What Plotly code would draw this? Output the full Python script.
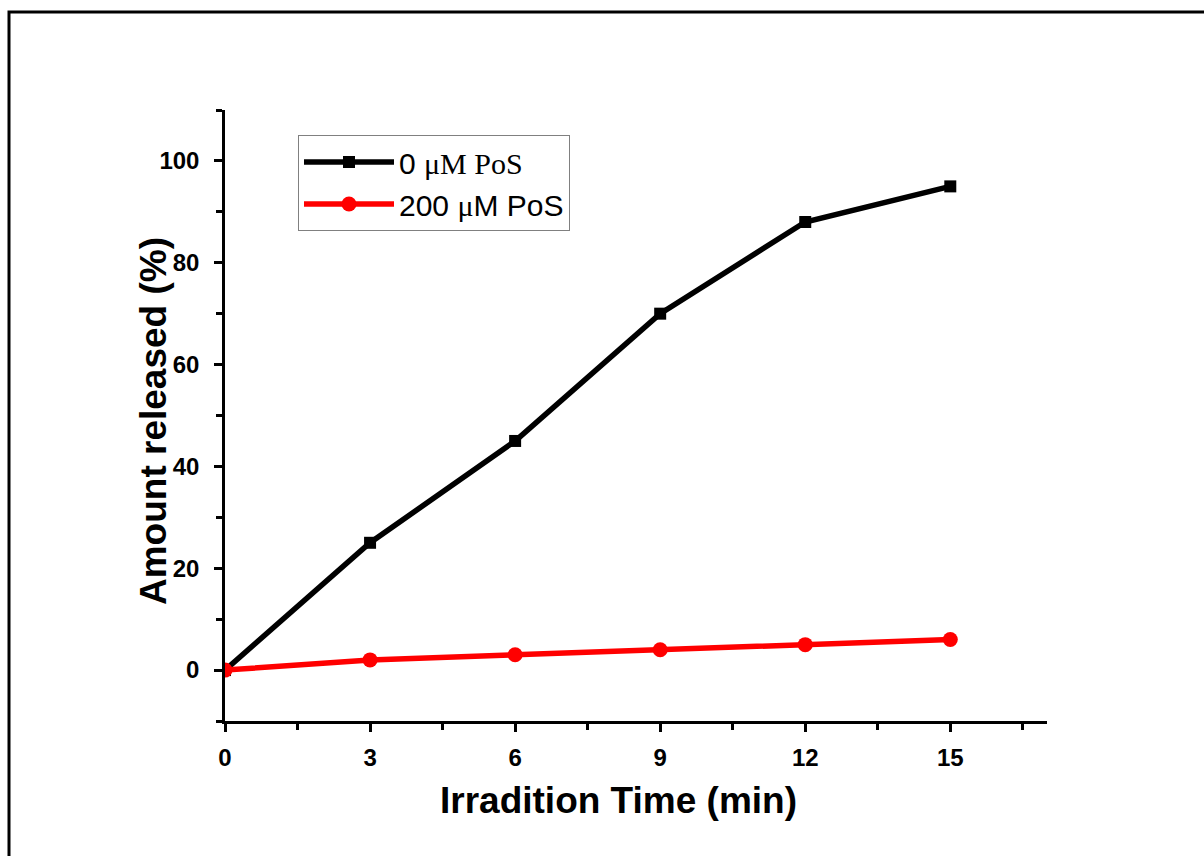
import plotly.graph_objects as go

time_min = [0, 3, 6, 9, 12, 15]
release_0uM = [0, 25, 45, 70, 88, 95]
release_200uM = [0, 2, 3, 4, 5, 6]

name_0 = '0 <span style="font-family:Liberation Serif, Times New Roman, serif">μM PoS</span>'
name_200 = '200 <span style="font-family:Liberation Serif, Times New Roman, serif">μ</span>M PoS'

SANS = "Liberation Sans, Arial, sans-serif"

# plot area in pixels: x 225..1047, y 110..721
L, R, T, B = 225, 1047, 110, 721
PW, PH = R - L, B - T

fig = go.Figure()
fig.add_trace(go.Scatter(
    x=time_min, y=release_0uM, name=name_0, mode="lines+markers",
    line=dict(color="black", width=5.5),
    marker=dict(symbol="square", size=12, color="black"),
))
fig.add_trace(go.Scatter(
    x=time_min, y=release_200uM, name=name_200, mode="lines+markers",
    line=dict(color="#ff0000", width=5.5),
    marker=dict(symbol="circle", size=15, color="#ff0000"),
))

axis_common = dict(
    showgrid=False, zeroline=False, showline=True, linecolor="black", linewidth=2.5,
    ticks="outside", ticklen=8, tickwidth=2.5, tickcolor="black",
    tickfont=dict(family=SANS, size=24, color="black", weight="bold"),
    mirror=False,
)

fig.update_layout(
    width=1204, height=856,
    margin=dict(l=L, r=1204 - R, t=T, b=856 - B),
    plot_bgcolor="white", paper_bgcolor="white",
    showlegend=True,
    legend=dict(
        x=(298 - L) / PW, y=(B - 135) / PH, xanchor="left", yanchor="top",
        bordercolor="#808080", borderwidth=1, bgcolor="white",
        font=dict(family=SANS, size=30, color="black"),
        itemwidth=90, tracegroupgap=0,
    ),
    xaxis=dict(
        **axis_common, range=[0, 17], tick0=0, dtick=3, ticklabelstandoff=5,
        minor=dict(dtick=1.5, ticklen=6, tickwidth=2.5, ticks="outside", tickcolor="black"),
    ),
    yaxis=dict(
        **axis_common, range=[-10, 110], tick0=0, dtick=20, ticklabelstandoff=10,
        minor=dict(dtick=10, ticklen=6, tickwidth=2.5, ticks="outside", tickcolor="black"),
    ),
    annotations=[
        dict(text="Irradition Time (min)", xref="paper", yref="paper",
             x=(618 - L) / PW, y=(B - 800) / PH, xanchor="center", yanchor="middle",
             showarrow=False,
             font=dict(family=SANS, size=37, color="black", weight="bold")),
        dict(text="Amount released (%)", xref="paper", yref="paper",
             x=(153 - L) / PW, y=(B - 421) / PH, xanchor="center", yanchor="middle",
             textangle=-90, showarrow=False,
             font=dict(family=SANS, size=37, color="black", weight="bold")),
    ],
    shapes=[dict(
        type="rect", xref="paper", yref="paper",
        x0=(9 - L) / PW, x1=1.4, y0=-0.4, y1=(B - 12) / PH,
        line=dict(color="black", width=3), layer="below",
    )],
)

fig.write_html("out.html")
